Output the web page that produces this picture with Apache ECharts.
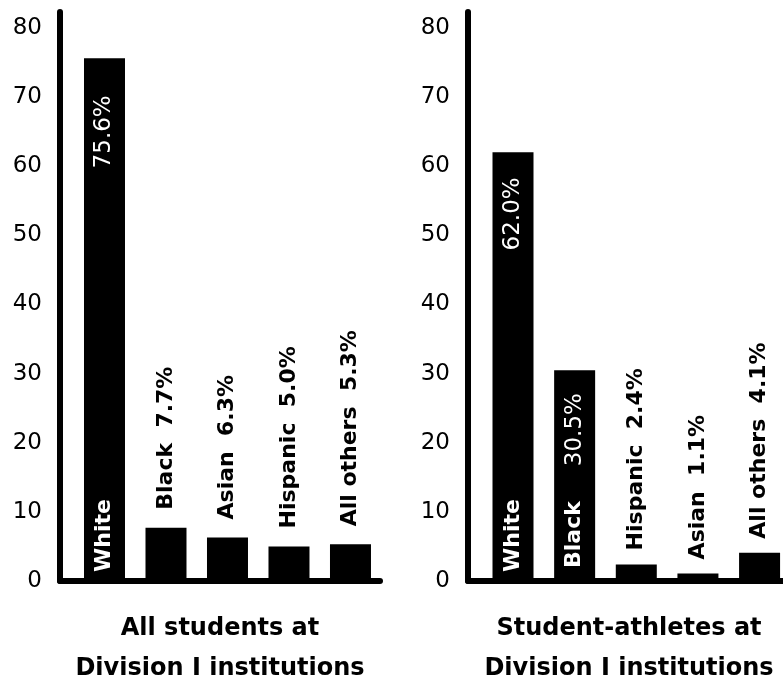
<!DOCTYPE html>
<html>
<head>
<meta charset="utf-8">
<script src="https://cdn.jsdelivr.net/npm/echarts@6/dist/echarts.min.js"></script>
<style>
  html, body { margin: 0; padding: 0; background: #fff; }
  #chart { width: 783px; height: 682px; }
</style>
</head>
<body>
<div id="chart"></div>
<script>
// left panel: all students
const leftCats = ['White', 'Black', 'Asian', 'Hispanic', 'All others'];
const leftVals = [75.6, 7.7, 6.3, 5.0, 5.3];
const leftTitle = 'All students at\nDivision I institutions';

// right panel: student-athletes
const rightCats = ['White', 'Black', 'Hispanic', 'Asian', 'All others'];
const rightVals = [62.0, 30.5, 2.4, 1.1, 4.1];
const rightTitle = 'Student-athletes at\nDivision I institutions';

const FONT = 'DejaVu Sans';

// tall bars carry their labels inside, short bars above
function barData(cats, vals, topDist) {
  return vals.map((v, i) => {
    const tall = v > 20;
    return {
      value: [i, v],
      label: tall ? {
        show: true, position: 'insideBottom', distance: i === 0 ? 9 : 13,
        rotate: 90, align: 'left', verticalAlign: 'middle',
        color: '#fff', fontFamily: FONT, fontWeight: 'bold', fontSize: 22,
        formatter: cats[i]
      } : {
        show: true, position: 'top', distance: topDist,
        rotate: 90, align: 'left', verticalAlign: 'middle',
        color: '#000', fontFamily: FONT, fontWeight: 'bold', fontSize: 22,
        formatter: cats[i] + '  ' + v.toFixed(1) + '%'
      }
    };
  });
}

// overlay bars only used for the value printed inside tall bars
function valueData(vals, insideDist) {
  return vals.map((v, i) => {
    const tall = v > 20;
    return {
      value: [i, v],
      label: tall ? {
        show: true, position: 'insideTop', distance: insideDist[i] || 24,
        rotate: 90, align: 'right', verticalAlign: 'middle',
        color: '#fff', fontFamily: FONT, fontSize: 23,
        formatter: v.toFixed(1) + '%'
      } : { show: false }
    };
  });
}

function yAxis(idx) {
  return {
    type: 'value', gridIndex: idx, min: 0, max: 82.3, interval: 10,
    axisLine: { show: true, onZero: false, lineStyle: { color: '#000', width: 6 } },
    axisTick: { show: false },
    splitLine: { show: false },
    axisLabel: { color: '#000', fontFamily: FONT, fontSize: 23, margin: 18, showMaxLabel: false }
  };
}

function xAxis(idx, min, max) {
  return {
    type: 'value', gridIndex: idx, min: min, max: max,
    axisLine: { show: true, onZero: false, lineStyle: { color: '#000', width: 6 } },
    axisTick: { show: false },
    axisLabel: { show: false },
    splitLine: { show: false }
  };
}

const chart = echarts.init(document.getElementById('chart'));
chart.setOption({
  animation: false,
  backgroundColor: '#fff',
  title: [
    { text: leftTitle, left: 220, top: 609, padding: 0, textAlign: 'center',
      textStyle: { fontFamily: FONT, fontWeight: 'bold', fontSize: 24, lineHeight: 40, color: '#000' } },
    { text: rightTitle, left: 629, top: 609, padding: 0, textAlign: 'center',
      textStyle: { fontFamily: FONT, fontWeight: 'bold', fontSize: 24, lineHeight: 40, color: '#000' } }
  ],
  grid: [
    { left: 60, top: 12, width: 320, bottom: 101 },
    { left: 468, top: 12, width: 315, bottom: 101 }
  ],
  xAxis: [xAxis(0, -0.7236, 4.48), xAxis(1, -0.73, 4.38)],
  yAxis: [yAxis(0), yAxis(1)],
  series: [
    { type: 'bar', xAxisIndex: 0, yAxisIndex: 0, barWidth: 41, barGap: '-100%',
      itemStyle: { color: '#000' }, data: barData(leftCats, leftVals, 18) },
    { type: 'bar', xAxisIndex: 0, yAxisIndex: 0, barWidth: 41, barGap: '-100%',
      itemStyle: { color: 'rgba(0,0,0,0)' }, data: valueData(leftVals, [37]) },
    { type: 'bar', xAxisIndex: 1, yAxisIndex: 1, barWidth: 41, barGap: '-100%',
      itemStyle: { color: '#000' }, data: barData(rightCats, rightVals, 14) },
    { type: 'bar', xAxisIndex: 1, yAxisIndex: 1, barWidth: 41, barGap: '-100%',
      itemStyle: { color: 'rgba(0,0,0,0)' }, data: valueData(rightVals, [25, 23]) }
  ]
});
</script>
</body>
</html>
